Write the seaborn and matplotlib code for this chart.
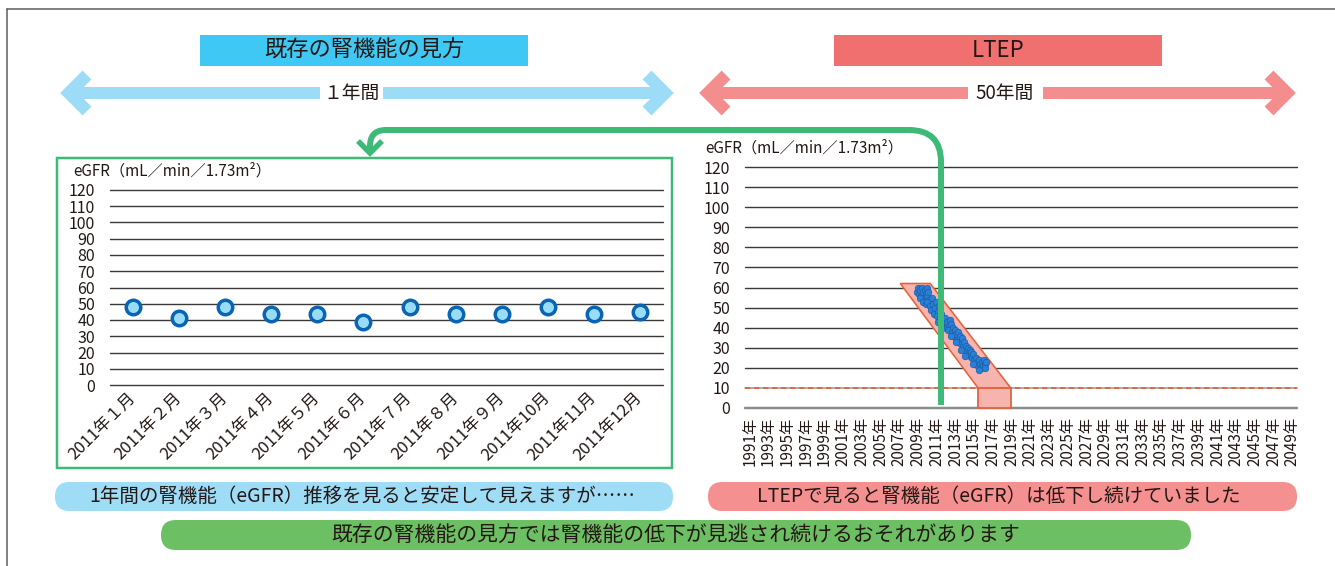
import matplotlib
matplotlib.use("Agg")
import matplotlib.pyplot as plt
from matplotlib.patches import FancyBboxPatch, Rectangle, PathPatch
from matplotlib.path import Path
import seaborn as sns
import pandas as pd

# ---------------- data ----------------
month_labels = ["2011年１月", "2011年２月", "2011年３月", "2011年４月", "2011年５月", "2011年６月",
                "2011年７月", "2011年８月", "2011年９月", "2011年10月", "2011年11月", "2011年12月"]
egfr_1yr = [48, 41, 48, 44, 44, 39, 48, 44, 44, 48, 44, 45]
y_ticks = list(range(0, 121, 10))
year_ticks = list(range(1991, 2050, 2))
year_labels = [f"{y}年" for y in year_ticks]

ltep_years = [2008.9, 2009.0, 2009.1, 2009.2, 2009.3, 2009.4, 2009.5, 2009.6, 2009.7, 2009.8,
              2009.9, 2010.0, 2010.1, 2009.2, 2009.5, 2009.8, 2010.2,
              2010.0, 2010.3, 2010.5, 2010.6, 2010.4, 2010.8, 2010.9, 2010.7, 2011.1, 2011.2, 2011.0,
              2011.3, 2011.1, 2011.5, 2011.6, 2011.8, 2011.9, 2012.0, 2012.1, 2012.3, 2012.4,
              2012.2, 2012.5, 2011.4,
              2012.6, 2012.7, 2012.8, 2012.9, 2013.0, 2013.1, 2013.2, 2013.3, 2013.4, 2013.5,
              2013.6, 2013.7, 2012.5, 2013.0,
              2013.8, 2013.9, 2014.0, 2014.1, 2014.2, 2014.3, 2014.4, 2014.5, 2014.6, 2014.7,
              2014.8, 2013.6, 2014.0, 2014.9,
              2015.0, 2015.1, 2015.2, 2015.3, 2015.4, 2015.5, 2015.6, 2015.7, 2015.8, 2015.9,
              2016.0, 2016.1, 2016.2, 2016.3, 2015.5, 2014.9]
ltep_egfr = [58, 60, 57, 59, 56, 60, 58, 55, 59, 57,
             60, 56, 58, 55, 53, 52, 54,
             53, 51, 55, 52, 49, 50, 53, 47, 48, 51, 46,
             45, 43, 47, 44, 42, 45, 40, 43, 41, 44,
             39, 42, 41,
             38, 40, 36, 39, 35, 37, 34, 38, 33, 36,
             32, 35, 36, 33,
             31, 33, 29, 31, 28, 30, 27, 29, 26, 28,
             25, 29, 26, 27,
             24, 22, 25, 23, 21, 24, 22, 20, 23, 21,
             24, 22, 20, 23, 19, 22]

band_years = [2007.1, 2010.3, 2018.9, 2015.4]
band_egfr = [62, 62, 10, 10]
esrd_years = [2015.4, 2018.9]
esrd_egfr = [0, 10]
threshold = 10
current_year = 2011.45

title_left = "既存の腎機能の見方"
title_right = "LTEP"
span_left = "１年間"
span_right = "50年間"
ylabel_text = "eGFR（mL／min／1.73m²）"
msg_left = "1年間の腎機能（eGFR）推移を見ると安定して見えますが……"
msg_right = "LTEPで見ると腎機能（eGFR）は低下し続けていました"
msg_bottom = "既存の腎機能の見方では腎機能の低下が見逃され続けるおそれがあります"

# ---------------- style ----------------
sns.set_theme(style="white")
plt.rcParams['font.family'] = ['Noto Sans CJK JP', 'DejaVu Sans']
TXT = '#231815'

W, H = 1335, 566
fig = plt.figure(figsize=(W / 100, H / 100), dpi=100)
fig.patch.set_facecolor('white')

def px2pt(p):
    return p * 0.72

# decoration layer (pixel coordinates, y down)
deco = fig.add_axes([0, 0, 1, 1], zorder=0)
deco.set_xlim(0, W)
deco.set_ylim(H, 0)
deco.axis('off')

# frame
deco.plot([7, W], [8.5, 8.5], color='#5a5a5a', lw=px2pt(1.5))
deco.plot([7, 7], [8.5, H], color='#5a5a5a', lw=px2pt(1.5))

# title boxes
deco.add_patch(Rectangle((200, 35), 328, 31, facecolor='#40c8f4', edgecolor='none'))
deco.text(364, 50.5, title_left, ha='center', va='center', fontsize=16, color=TXT)
deco.add_patch(Rectangle((834, 35), 328, 31, facecolor='#f07070', edgecolor='none'))
deco.text(998, 50.5, title_right, ha='center', va='center', fontsize=16, color=TXT)

def double_arrow(x0, x1, y, color, label, xc, gap0, gap1):
    tip_off = 9
    lw = px2pt(12.5)
    deco.plot([x0 + tip_off, gap0], [y, y], color=color, lw=px2pt(12), solid_capstyle='butt')
    deco.plot([gap1, x1 - tip_off], [y, y], color=color, lw=px2pt(12), solid_capstyle='butt')
    deco.plot([x0 + tip_off + 18, x0 + tip_off, x0 + tip_off + 18], [y - 18, y, y + 18],
              color=color, lw=lw, solid_joinstyle='miter', solid_capstyle='butt')
    deco.plot([x1 - tip_off - 18, x1 - tip_off, x1 - tip_off - 18], [y - 18, y, y + 18],
              color=color, lw=lw, solid_joinstyle='miter', solid_capstyle='butt')
    deco.text(xc, y, label, ha='center', va='center', fontsize=13.5, color=TXT)

double_arrow(60, 674, 93, '#9ddcf6', span_left, 351, 320, 383)
double_arrow(699, 1296, 93, '#f48e8e', span_right, 1005, 968, 1043)

# left chart frame
deco.add_patch(Rectangle((57, 158), 615, 310, facecolor='none', edgecolor='#3dba78', lw=px2pt(2.5)))

# y-axis captions
deco.text(73, 171, ylabel_text, ha='left', va='center', fontsize=11, color=TXT)
deco.text(705, 148, ylabel_text, ha='left', va='center', fontsize=11, color=TXT)

# message pills
def pill(x, y, w, h, color, text, fs, xc=None):
    deco.add_patch(FancyBboxPatch((x, y), w, h, boxstyle=f"round,pad=0,rounding_size={h/2}",
                                  facecolor=color, edgecolor='none'))
    deco.text(x + w / 2 if xc is None else xc, y + h / 2, text, ha='center', va='center',
              fontsize=fs, color=TXT)

pill(55, 482, 618, 29, '#9fdcf6', msg_left, 14, xc=362)
pill(708, 482, 589, 29, '#f49090', msg_right, 14, xc=999)
pill(161, 520, 1030, 30, '#6cbf62', msg_bottom, 15)

# ---------------- left chart ----------------
ax1 = fig.add_axes([110 / W, 1 - 385 / H, 553 / W, 195 / H], zorder=2)
ax1.patch.set_alpha(0)
ax1.set_xlim(-0.5, len(month_labels) - 0.5)
ax1.set_ylim(0, 120)
for v in y_ticks:
    ax1.axhline(v, color='#3a3a3a', lw=px2pt(1.4), clip_on=False, zorder=1)
df1 = pd.DataFrame({'idx': range(len(month_labels)), 'egfr': egfr_1yr})
sns.scatterplot(data=df1, x='idx', y='egfr', ax=ax1, s=109, color='#99dcf8',
                edgecolor='#0a64b4', linewidth=2.5, zorder=3, clip_on=False, legend=False)
ax1.set_yticks(y_ticks)
ax1.set_yticklabels([str(v) for v in y_ticks], fontsize=11.5, color=TXT)
ax1.set_xticks(range(len(month_labels)))
ax1.set_xticklabels(month_labels, rotation=45, ha='right', va='center', rotation_mode='anchor',
                    fontsize=12, color=TXT)
ax1.tick_params(axis='both', length=0)
ax1.tick_params(axis='y', pad=px2pt(15))
ax1.tick_params(axis='x', pad=px2pt(10))
ax1.set_xlabel('')
ax1.set_ylabel('')
for s in ax1.spines.values():
    s.set_visible(False)

# ---------------- right chart ----------------
ax2 = fig.add_axes([745 / W, 1 - 408 / H, 552 / W, 241 / H], zorder=2)
ax2.patch.set_alpha(0)
ax2.set_xlim(1990.5, 2049.5)
ax2.set_ylim(0, 120)
for v in y_ticks:
    if v == 0:
        ax2.axhline(v, color='#8c8c8c', lw=px2pt(2.5), clip_on=False, zorder=1)
    elif v == threshold:
        ax2.axhline(v, color='#9a9a9a', lw=px2pt(1.6), clip_on=False, zorder=1)
    else:
        ax2.axhline(v, color='#3a3a3a', lw=px2pt(1.4), clip_on=False, zorder=1)
ax2.axhline(threshold, color='#e2643c', lw=px2pt(1.8), ls=(0, (3, 2)), zorder=2)
ax2.fill(band_years, band_egfr, facecolor='#f7b3ae', edgecolor='#e2643c', lw=px2pt(1.6), zorder=3)
ax2.fill([esrd_years[0], esrd_years[1], esrd_years[1], esrd_years[0]],
         [esrd_egfr[0], esrd_egfr[0], esrd_egfr[1], esrd_egfr[1]],
         facecolor='#f7b3ae', edgecolor='#e2643c', lw=px2pt(1.8), zorder=3, clip_on=False)
df2 = pd.DataFrame({'year': ltep_years, 'egfr': ltep_egfr})
sns.scatterplot(data=df2, x='year', y='egfr', ax=ax2, s=22, color='#2a80d6',
                edgecolor='#1b5ea8', linewidth=0.5, zorder=4, legend=False)
ax2.set_yticks(y_ticks)
ax2.set_yticklabels([str(v) for v in y_ticks], fontsize=11.5, color=TXT)
ax2.set_xticks(year_ticks)
ax2.set_xticklabels(year_labels, rotation=90, ha='center', va='top', fontsize=11, color=TXT)
ax2.tick_params(axis='both', length=0)
ax2.tick_params(axis='y', pad=px2pt(15))
ax2.tick_params(axis='x', pad=px2pt(9))
ax2.set_xlabel('')
ax2.set_ylabel('')
for s in ax2.spines.values():
    s.set_visible(False)

# ---------------- connector (top layer) ----------------
top = fig.add_axes([0, 0, 1, 1], zorder=10)
top.patch.set_alpha(0)
top.set_xlim(0, W)
top.set_ylim(H, 0)
top.axis('off')
fig.canvas.draw()
disp = ax2.transData.transform((current_year, 1.5))
xv = disp[0]
yb = H - disp[1]
GREEN = '#3dba78'
verts = [(xv, yb), (xv, 162), (xv, 130), (xv - 32, 130), (386, 130), (370, 130), (370, 146), (370, 152)]
codes = [Path.MOVETO, Path.LINETO, Path.CURVE3, Path.CURVE3, Path.LINETO, Path.CURVE3, Path.CURVE3, Path.LINETO]
top.add_patch(PathPatch(Path(verts, codes), facecolor='none', edgecolor=GREEN, lw=px2pt(6),
                        capstyle='butt', joinstyle='round'))
top.plot([358, 370, 382], [141, 153, 141], color=GREEN, lw=px2pt(5.5),
         solid_joinstyle='miter', solid_capstyle='butt')

fig.savefig('out.png', dpi=100)
